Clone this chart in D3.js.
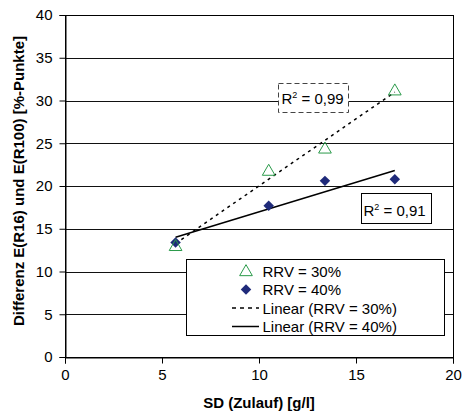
<!DOCTYPE html>
<html><head><meta charset="utf-8">
<script src="https://cdn.jsdelivr.net/npm/d3@7"></script>
<style>body{margin:0;background:#fff}svg{display:block;font-family:"Liberation Sans",Arial,sans-serif}</style>
</head><body>
<svg id="c" width="462" height="414"></svg>
<script>
const xValues = [5.7, 10.5, 13.4, 17.0];
const rrv30 = [13.0, 21.8, 24.4, 31.2];
const rrv40 = [13.4, 17.7, 20.6, 20.8];
const xTicks = [0, 5, 10, 15, 20];
const yTicks = [0, 5, 10, 15, 20, 25, 30, 35, 40];
const r2Labels = ["0,99", "0,91"];
const legendLabels = ["RRV = 30%", "RRV = 40%", "Linear (RRV = 30%)", "Linear (RRV = 40%)"];

const svg = d3.select("#c");
const L = 65, R = 453, T = 15, B = 357;
const FS = 15;
const x = d3.scaleLinear().domain([0, 20]).range([L, R]);
const y = d3.scaleLinear().domain([0, 40]).range([B, T]);

// gridlines
svg.append("g").selectAll("line").data(yTicks.filter(d => d > 0)).join("line")
  .attr("x1", L).attr("x2", R).attr("y1", d => Math.round(y(d)) + 0.5).attr("y2", d => Math.round(y(d)) + 0.5)
  .attr("stroke", "#111").attr("stroke-width", 1);
// plot border
svg.append("rect").attr("x", L + 0.5).attr("y", T + 0.5).attr("width", R - L).attr("height", B - T)
  .attr("fill", "none").attr("stroke", "#000");

const xa = svg.append("g").attr("transform", `translate(0,${B + 0.5})`)
  .call(d3.axisBottom(x).tickValues(xTicks).tickSize(6).tickPadding(5.5).tickFormat(d3.format("d")));
const ya = svg.append("g").attr("transform", `translate(${L + 0.5},0)`)
  .call(d3.axisLeft(y).tickValues(yTicks).tickSize(6).tickPadding(7).tickFormat(d3.format("d")));
[xa, ya].forEach(a => {
  a.select(".domain").attr("stroke", "#000");
  a.selectAll(".tick line").attr("stroke", "#000");
  a.selectAll(".tick text").attr("font-size", FS).attr("fill", "#000").attr("font-family", "Liberation Sans, Arial, sans-serif");
});

// axis titles
svg.append("text").attr("x", 259).attr("y", 408).attr("text-anchor", "middle")
  .attr("font-size", 15).attr("font-weight", "bold").text("SD (Zulauf) [g/l]");
svg.append("text").attr("transform", `translate(23.5,181) rotate(-90)`).attr("text-anchor", "middle")
  .attr("font-size", 15).attr("font-weight", "bold").text("Differenz E(R16) und E(R100) [%-Punkte]");

// linear fits
function fit(xs, ys) {
  const mx = d3.mean(xs), my = d3.mean(ys);
  const sxy = d3.sum(xs, (v, i) => (v - mx) * (ys[i] - my));
  const sxx = d3.sum(xs, v => (v - mx) ** 2);
  const b = sxy / sxx, a = my - b * mx;
  return v => a + b * v;
}
const xr = d3.extent(xValues);
const f30 = fit(xValues, rrv30), f40 = fit(xValues, rrv40);
svg.append("line").attr("x1", x(xr[0])).attr("y1", y(f30(xr[0]))).attr("x2", x(xr[1])).attr("y2", y(f30(xr[1])))
  .attr("stroke", "#000").attr("stroke-width", 1.5).attr("stroke-dasharray", "3,4");
svg.append("line").attr("x1", x(xr[0])).attr("y1", y(f40(xr[0]))).attr("x2", x(xr[1])).attr("y2", y(f40(xr[1])))
  .attr("stroke", "#000").attr("stroke-width", 1.5);

// markers
const tri = d3.symbol().type(d3.symbolTriangle).size(70);
const dia = d3.symbol().type(d3.symbolSquare).size(55);
const navy = "#1f2a7a", green = "#2a9a4a";
svg.append("g").selectAll("path").data(xValues).join("path")
  .attr("d", dia).attr("transform", (d, i) => `translate(${x(d)},${y(rrv40[i])}) rotate(45)`).attr("fill", navy);
svg.append("g").selectAll("path").data(xValues).join("path")
  .attr("d", tri).attr("transform", (d, i) => `translate(${x(d)},${y(rrv30[i]) + 1})`)
  .attr("fill", "none").attr("stroke", green).attr("stroke-width", 1);

// R² boxes
function r2box(x0, y0, w, h, val, dashed, tx, ty) {
  svg.append("rect").attr("x", x0 + 0.5).attr("y", y0 + 0.5).attr("width", w).attr("height", h)
    .attr("fill", "#fff").attr("stroke", dashed ? "#444" : "#000").attr("stroke-dasharray", dashed ? "5,3" : null);
  const t = svg.append("text").attr("x", tx).attr("y", ty).attr("font-size", FS);
  t.append("tspan").text("R");
  t.append("tspan").attr("font-size", 9).attr("dy", -6).text("2");
  t.append("tspan").attr("dy", 6).text(" = " + val);
}
r2box(278, 83, 70, 29, r2Labels[0], true, 281.5, 103.5);
r2box(361, 193, 70, 30, r2Labels[1], false, 363.5, 216);

// legend
const lg = svg.append("g");
lg.append("rect").attr("x", 186.5).attr("y", 259.5).attr("width", 258).attr("height", 76)
  .attr("fill", "#fff").attr("stroke", "#000");
const ly = [271, 289.5, 308, 326.5];
lg.append("path").attr("d", tri).attr("transform", `translate(246,${ly[0] + 1})`).attr("fill", "none").attr("stroke", green);
lg.append("path").attr("d", dia).attr("transform", `translate(246,${ly[1]}) rotate(45)`).attr("fill", navy);
lg.append("line").attr("x1", 232).attr("x2", 259).attr("y1", ly[2]).attr("y2", ly[2]).attr("stroke", "#000").attr("stroke-width", 1.5).attr("stroke-dasharray", "4,4");
lg.append("line").attr("x1", 232).attr("x2", 259).attr("y1", ly[3]).attr("y2", ly[3]).attr("stroke", "#000").attr("stroke-width", 1.5);
lg.selectAll("text").data(legendLabels).join("text")
  .attr("x", 262.5).attr("y", (d, i) => ly[i] + 5.5).attr("font-size", FS).text(d => d);
</script>
</body></html>
